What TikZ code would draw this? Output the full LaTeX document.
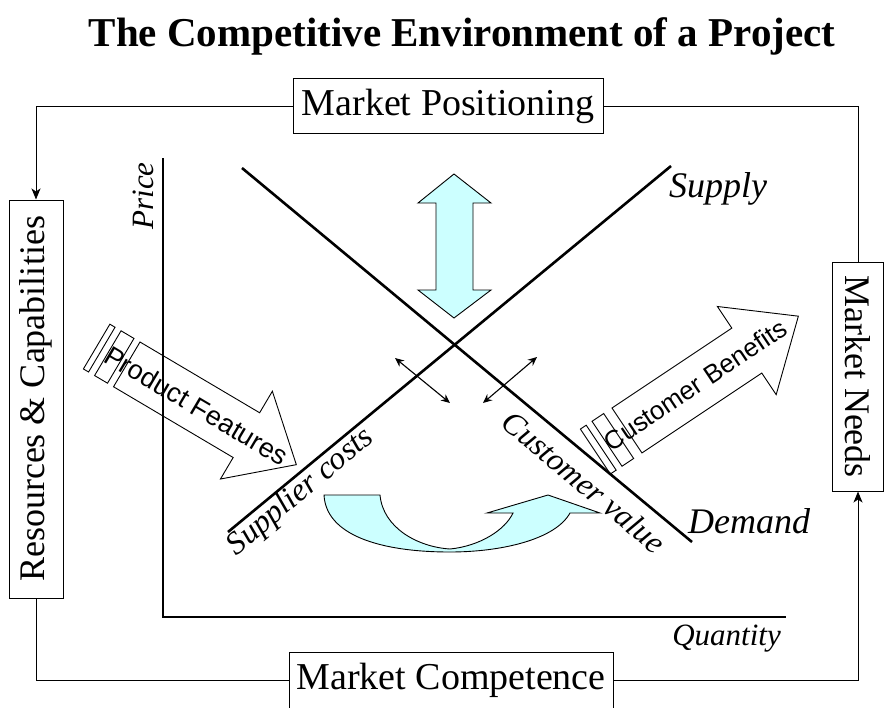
\documentclass[tikz,border=0pt]{standalone}
\usepackage{fontspec}
\setmainfont{Liberation Serif}
\newfontfamily\arialfont{Liberation Sans}
\usetikzlibrary{arrows.meta}
\definecolor{paleblue}{HTML}{CCFFFF}
\begin{document}
\begin{tikzpicture}[x=1pt,y=-1pt,
  box/.style={draw,line width=1pt,inner sep=0pt,font=\fontsize{36}{40}\selectfont},
  bigbox/.style={box,font=\fontsize{38}{42}\selectfont},
  conn/.style={line width=1pt},
  tipend/.style={-{Stealth[length=11pt,width=9pt,inset=3pt]}},
  axisline/.style={line width=2.6pt},
  curveline/.style={line width=2.6pt},
  lbl/.style={inner sep=0pt},
  blockarrow/.style={draw,line width=0.9pt,fill=paleblue,line join=miter},
  hollow/.style={draw,line width=0.9pt,line join=miter},
  arialtext/.style={font=\arialfont\fontsize{27}{30}\selectfont,inner sep=0pt},
  dbl/.style={line width=1.1pt,{Stealth[length=9pt,width=8pt,inset=3pt]}-{Stealth[length=9pt,width=8pt,inset=3pt]}}]
\useasboundingbox (0,0) rectangle (886,707);

% title
\node[font=\fontsize{41}{48}\selectfont\bfseries, anchor=base, inner sep=0pt] (title) at (462,46) {The Competitive Environment of a Project};

% boxes
\node[bigbox, minimum width=310pt, minimum height=55pt] (mp) at (448,106) {Market Positioning};
\node[bigbox, minimum width=324pt, minimum height=57pt] (mc) at (451,680.5) {Market Competence};
\node[box, rotate=90, minimum width=398pt, minimum height=54pt] (res) at (36,399) {Resources \& Capabilities};
\node[box, rotate=-90, minimum width=229pt, minimum height=51pt] (mn) at (858,376.5) {Market Needs};

% connectors
\draw[conn,tipend] (mp.west) -| (res.east);
\draw[conn] (mp.east) -| (mn.west);
\draw[conn] (res.west) |- (mc.west);
\draw[conn,tipend] (mc.east) -| (mn.east);

% product features arrow
\begin{scope}[shift={(140,342)}, rotate=-30.6]
  \draw[hollow] (-35,0) rectangle (-29,52);
  \draw[hollow] (-22,0) rectangle (-7,52);
  \draw[hollow] (0,0) -- (139,0) -- (139,-25) -- (197,26) -- (139,77) -- (139,52) -- (0,52) -- cycle;
  \node[arialtext, rotate=-30.6] (pf) at (81,26) {Product Features};
\end{scope}

% customer benefits arrow
\begin{scope}[shift={(612,408)}, rotate=33.7]
  \draw[hollow] (-38,0) rectangle (-31,54);
  \draw[hollow] (-24,0) rectangle (-10,54);
  \draw[hollow] (0,0) -- (144,0) -- (144,-26) -- (206,27) -- (144,80) -- (144,54) -- (0,54) -- cycle;
  \node[arialtext, font=\arialfont\fontsize{26}{30}\selectfont, rotate=33.7] (cb) at (82,27) {Customer Benefits};
\end{scope}

% axes
\coordinate (ytop) at (163,158);
\coordinate (orig) at (163,617);
\coordinate (xend) at (786,617);
\draw[axisline] (ytop) -- (orig) -- (xend);

% supply and demand
\coordinate (s1) at (228,532);
\coordinate (s2) at (671,166);
\coordinate (d1) at (242,168);
\coordinate (d2) at (692,542);
\draw[curveline] (s1) -- (s2);
\draw[curveline] (d1) -- (d2);

% vertical double block arrow
\draw[blockarrow] (454,174) -- (491,203) -- (473,203) -- (473,290) -- (491,290) -- (454,318) -- (418,290) -- (436,290) -- (436,203) -- (418,203) -- cycle;

% curved block arrow
\draw[blockarrow] (324,495) -- (380,495) .. controls (383,528) and (418,547) .. (450,549)
  .. controls (480,546) and (505,530) .. (513,513) -- (487,513) -- (548,495) -- (600,513) -- (570,513)
  .. controls (555,540) and (500,552) .. (450,552) .. controls (380,552) and (326,535) .. cycle;

% small double arrows
\coordinate (a1) at (395,358);
\coordinate (a2) at (450,403);
\coordinate (b1) at (483,403);
\coordinate (b2) at (537,357);
\draw[dbl] (a1) -- (a2);
\draw[dbl] (b1) -- (b2);

% labels
\node[lbl, font=\fontsize{36}{40}\selectfont\itshape, anchor=base west] (supply) at (669,197) {Supply};
\node[lbl, font=\fontsize{36}{40}\selectfont\itshape, anchor=base west] (demand) at (688,533) {Demand};
\node[lbl, font=\fontsize{31}{36}\selectfont\itshape, rotate=90, anchor=base] (price) at (153,196) {Price};
\node[lbl, font=\fontsize{31}{36}\selectfont\itshape, anchor=base east] (qty) at (781,645) {Quantity};
\node[lbl, font=\fontsize{32}{36}\selectfont\itshape, rotate=40, anchor=base] (sc) at (306,498) {Supplier costs};
\node[lbl, font=\fontsize{32}{36}\selectfont\itshape, rotate=-40, anchor=center] (cv) at (584,482) {Customer value};
\end{tikzpicture}
\end{document}
